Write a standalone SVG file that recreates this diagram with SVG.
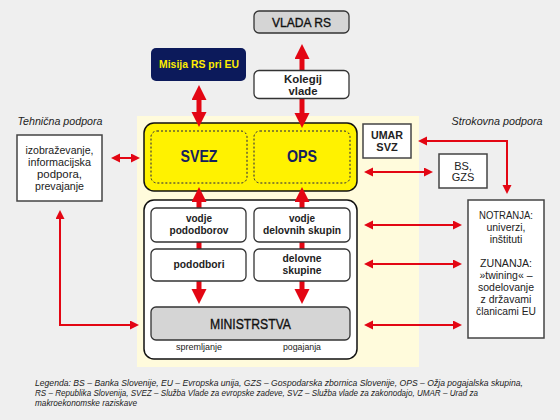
<svg xmlns="http://www.w3.org/2000/svg" width="560" height="420" viewBox="0 0 560 420">
  <style>
    text { font-family: "Liberation Sans", Arial, sans-serif; fill: #222; }
    .c { text-anchor: middle; }
    .b { font-weight: bold; }
    .med { fill: #111; stroke: #111; stroke-width: 0.35; }
    .s11 { font-size: 11px; }
    .s10 { font-size: 10.5px; }
    .sm { font-size: 9px; }
    .it { font-style: italic; }
    .big { stroke: #e30613; stroke-width: 5; fill: none; }
    .thin { stroke: #e30613; stroke-width: 2; fill: none; }
    .rbox { fill: #fff; stroke: #333; stroke-width: 1.3; }
    .sbox { fill: #fff; stroke: #444; stroke-width: 1.5; }
    .grey { fill: #d5d5d5; stroke: #333; stroke-width: 1.3; }
    .dash { fill: none; stroke: #1a1a4a; stroke-width: 1; stroke-dasharray: 2 2; }
  </style>
  <defs>
    <marker id="bh" markerUnits="userSpaceOnUse" markerWidth="16" markerHeight="16" refX="1" refY="7.5" orient="auto-start-reverse">
      <path d="M0,0 L15,7.5 L0,15 Z" fill="#e30613"/>
    </marker>
    <marker id="th" markerUnits="userSpaceOnUse" markerWidth="10" markerHeight="10" refX="1" refY="4.5" orient="auto-start-reverse">
      <path d="M0,0 L9,4.5 L0,9 Z" fill="#e30613"/>
    </marker>
  </defs>

  <rect x="0" y="0" width="560" height="420" fill="#efefef"/>
  <rect x="137" y="116" width="282" height="251" fill="#fffbdc"/>

  <g id="tehnicna-label">
    <text class="s11 it" x="60" y="125" text-anchor="middle" textLength="85" lengthAdjust="spacingAndGlyphs">Tehnična podpora</text>
  </g>
  <g id="strokovna-label">
    <text class="s11 it" x="497" y="125" text-anchor="middle" textLength="91" lengthAdjust="spacingAndGlyphs">Strokovna podpora</text>
  </g>

  <g id="yellow-group">
    <rect x="144" y="123" width="213" height="68" rx="10" fill="#fff200" stroke="#111" stroke-width="1.5"/>
  </g>
  <g id="white-group">
    <rect x="144" y="200" width="213" height="159" rx="10" fill="#fff" stroke="#111" stroke-width="1.5"/>
  </g>

  <g id="connectors">
    <line class="big" x1="302" y1="58" x2="302" y2="71" marker-start="url(#bh)"/>
    <line class="big" x1="302" y1="98" x2="302" y2="114" marker-end="url(#bh)"/>
    <line class="big" x1="199" y1="99" x2="199" y2="113" marker-start="url(#bh)" marker-end="url(#bh)"/>
    <line class="big" x1="199" y1="201" x2="199" y2="290" marker-start="url(#bh)" marker-end="url(#bh)"/>
    <line class="big" x1="302" y1="201" x2="302" y2="290" marker-start="url(#bh)" marker-end="url(#bh)"/>
    <line class="thin" x1="119" y1="158" x2="132" y2="158" marker-start="url(#th)" marker-end="url(#th)"/>
    <path class="thin" d="M60,218 V325 H131" marker-start="url(#th)" marker-end="url(#th)"/>
    <line class="thin" x1="372" y1="172" x2="425" y2="172" marker-start="url(#th)" marker-end="url(#th)"/>
    <path class="thin" d="M426,141 H507 V186" marker-start="url(#th)" marker-end="url(#th)"/>
    <line class="thin" x1="372" y1="225" x2="454" y2="225" marker-start="url(#th)" marker-end="url(#th)"/>
    <line class="thin" x1="372" y1="264" x2="454" y2="264" marker-start="url(#th)" marker-end="url(#th)"/>
    <line class="thin" x1="372" y1="325" x2="454" y2="325" marker-start="url(#th)" marker-end="url(#th)"/>
  </g>

  <g id="vlada">
    <rect class="grey" x="254" y="11" width="95" height="22" rx="5"/>
    <text class="c med" x="301.5" y="27" font-size="13" textLength="59" lengthAdjust="spacingAndGlyphs">VLADA RS</text>
  </g>
  <g id="kolegij">
    <rect class="rbox" x="254" y="70.5" width="95" height="28" rx="5"/>
    <text class="c b s11" x="303" y="83" textLength="38" lengthAdjust="spacingAndGlyphs">Kolegij</text>
    <text class="c b s11" x="303" y="95" textLength="29" lengthAdjust="spacingAndGlyphs">vlade</text>
  </g>
  <g id="misija">
    <rect x="151" y="48" width="95" height="33" rx="5" fill="#0c1a5b"/>
    <text class="c b s11" x="199" y="68" style="fill:#ffed00" textLength="80" lengthAdjust="spacingAndGlyphs">Misija RS pri EU</text>
  </g>

  <g id="svez">
    <rect class="dash" x="151" y="131" width="96" height="52" rx="6"/>
    <text class="c b" x="199" y="162" font-size="17" style="fill:#14205e" textLength="37" lengthAdjust="spacingAndGlyphs">SVEZ</text>
  </g>
  <g id="ops">
    <rect class="dash" x="254" y="131" width="96" height="52" rx="6"/>
    <text class="c b" x="302" y="162" font-size="17" style="fill:#14205e" textLength="30" lengthAdjust="spacingAndGlyphs">OPS</text>
  </g>

  <g id="vodje-pododborov">
    <rect class="rbox" x="151" y="208" width="95" height="34" rx="5"/>
    <text class="c b s11" x="199" y="222" textLength="26" lengthAdjust="spacingAndGlyphs">vodje</text>
    <text class="c b s11" x="199" y="234" textLength="59" lengthAdjust="spacingAndGlyphs">pododborov</text>
  </g>
  <g id="vodje-delovnih-skupin">
    <rect class="rbox" x="254" y="208" width="96" height="34" rx="5"/>
    <text class="c b s11" x="302" y="222" textLength="26" lengthAdjust="spacingAndGlyphs">vodje</text>
    <text class="c b s11" x="302" y="234" textLength="78" lengthAdjust="spacingAndGlyphs">delovnih skupin</text>
  </g>
  <g id="pododbori">
    <rect class="rbox" x="151" y="249" width="95" height="32" rx="5"/>
    <text class="c b s11" x="199" y="268" textLength="51" lengthAdjust="spacingAndGlyphs">pododbori</text>
  </g>
  <g id="delovne-skupine">
    <rect class="rbox" x="254" y="249" width="96" height="32" rx="5"/>
    <text class="c b s11" x="302" y="262" textLength="39" lengthAdjust="spacingAndGlyphs">delovne</text>
    <text class="c b s11" x="302" y="274" textLength="39" lengthAdjust="spacingAndGlyphs">skupine</text>
  </g>
  <g id="ministrstva">
    <rect class="grey" x="151" y="307" width="199" height="33" rx="5"/>
    <text class="c med" x="250.5" y="329" font-size="15" textLength="81" lengthAdjust="spacingAndGlyphs">MINISTRSTVA</text>
    <text class="c sm" x="199" y="350" textLength="46" lengthAdjust="spacingAndGlyphs">spremljanje</text>
    <text class="c sm" x="302" y="350" textLength="38" lengthAdjust="spacingAndGlyphs">pogajanja</text>
  </g>

  <g id="tehnicna-podpora">
    <rect class="sbox" x="17" y="135" width="85" height="66"/>
    <text class="c s11" x="59.5" y="154" textLength="68" lengthAdjust="spacingAndGlyphs">izobraževanje,</text>
    <text class="c s11" x="59.5" y="166" textLength="63" lengthAdjust="spacingAndGlyphs">informacijska</text>
    <text class="c s11" x="59.5" y="178" textLength="45" lengthAdjust="spacingAndGlyphs">podpora,</text>
    <text class="c s11" x="59.5" y="190" textLength="49" lengthAdjust="spacingAndGlyphs">prevajanje</text>
  </g>
  <g id="umar-svz">
    <rect class="sbox" x="363" y="124" width="48" height="34"/>
    <text class="c b s11" x="387" y="139" textLength="32" lengthAdjust="spacingAndGlyphs">UMAR</text>
    <text class="c b s11" x="387" y="151">SVZ</text>
  </g>
  <g id="bs-gzs">
    <rect class="sbox" x="439" y="154" width="48" height="34"/>
    <text class="c s11" x="463" y="170">BS,</text>
    <text class="c s11" x="463" y="181">GZS</text>
  </g>
  <g id="notranja-zunanja">
    <rect class="sbox" x="468" y="200" width="76" height="138"/>
    <text class="c s10" x="506" y="219" textLength="54" lengthAdjust="spacingAndGlyphs">NOTRANJA:</text>
    <text class="c s10" x="506" y="231">univerzi,</text>
    <text class="c s10" x="506" y="243">inštituti</text>
    <text class="c s10" x="506" y="267" textLength="52" lengthAdjust="spacingAndGlyphs">ZUNANJA:</text>
    <text class="c s10" x="506" y="279">»twining« –</text>
    <text class="c s10" x="506" y="291">sodelovanje</text>
    <text class="c s10" x="506" y="303">z državami</text>
    <text class="c s10" x="506" y="315" textLength="60" lengthAdjust="spacingAndGlyphs">članicami EU</text>
  </g>

  <g id="legend">
    <text class="it" x="35" y="386" font-size="8.5" textLength="488" lengthAdjust="spacingAndGlyphs">Legenda: BS – Banka Slovenije, EU – Evropska unija, GZS – Gospodarska zbornica Slovenije, OPS – Ožja pogajalska skupina,</text>
    <text class="it" x="35" y="396" font-size="8.5" textLength="443" lengthAdjust="spacingAndGlyphs">RS – Republika Slovenija, SVEZ – Služba Vlade za evropske zadeve, SVZ – Služba vlade za zakonodajo, UMAR – Urad za</text>
    <text class="it" x="35" y="406" font-size="8.5" textLength="102" lengthAdjust="spacingAndGlyphs">makroekonomske raziskave</text>
  </g>
</svg>
